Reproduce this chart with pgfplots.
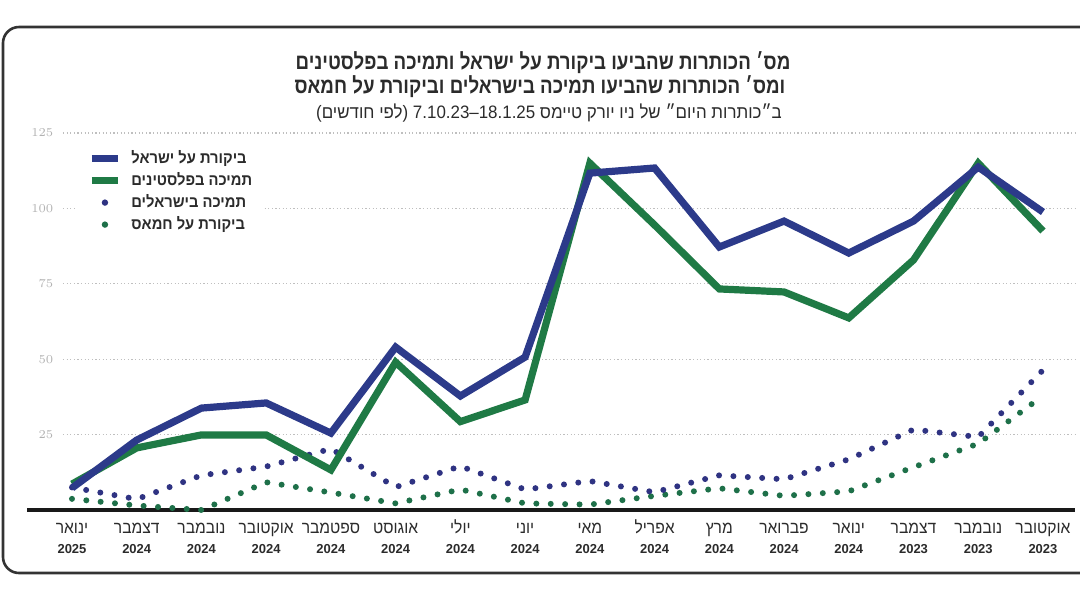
\documentclass[border=0pt]{standalone}
\usepackage{fontspec}
\setmainfont{Liberation Sans}
\newfontfamily\heb[Script=Hebrew]{Liberation Sans}
\newfontfamily\hebt[Script=Hebrew, FakeStretch=0.85]{Liberation Sans}
\newfontfamily\hebs[Script=Hebrew, FakeStretch=0.94]{Liberation Sans}
\newfontfamily\hebm[Script=Hebrew, FakeStretch=0.92]{Liberation Sans}
\usepackage{pgfplots}
\usepackage{pgfplotstable}
\pgfplotsset{compat=1.18}
\TeXXeTstate=1
\definecolor{cblue}{HTML}{2C3A8A}
\definecolor{cgreen}{HTML}{1F7A45}
\definecolor{dblue}{HTML}{2F3382}
\definecolor{dgreen}{HTML}{1E7049}
\definecolor{tgray}{HTML}{2B2B2B}
\newcommand{\xl}[2]{\beginR #1\endR\\{\heb\bfseries\fontsize{6.5}{10}\selectfont #2}}
\pgfplotstableread{
x blue green bdot gdot
0 7.3 8.6 7.5 3.7
1 23.2 20.6 3.6 1.5
2 33.8 24.9 11.5 0
3 35.5 24.9 14.4 9.2
4 25.5 13.3 20.3 5.8
5 54 49 7.6 2.2
6 37.8 29.3 14.5 6.8
7 50.7 36.5 6.8 2.2
8 111.7 115 9.6 1.8
9 113.4 94.5 5.9 4.7
10 87.2 73.3 11.5 7.2
11 95.8 72.3 10.2 4.7
12 85.2 63.7 16.8 6.2
13 95.8 82.9 26.7 14.2
14 113.7 115 24.2 22
15 98.8 92.5 46.4 37.9
}\data
\begin{document}
\begin{tikzpicture}
\draw[line width=1.3pt, black!80, rounded corners=8pt] (560pt,-13.5pt) -- (1.5pt,-13.5pt) -- (1.5pt,-286.5pt) -- (560pt,-286.5pt);
\node[font=\hebt\bfseries\fontsize{11}{13}\selectfont, text=tgray] at (271.5pt,-31.5pt) {\beginR מס׳ הכותרות שהביעו ביקורת על ישראל ותמיכה בפלסטינים\endR};
\node[font=\hebt\bfseries\fontsize{11}{13}\selectfont, text=tgray] at (270pt,-43.5pt) {\beginR ומס׳ הכותרות שהביעו תמיכה בישראלים וביקורת על חמאס\endR};
\node[font=\hebs\fontsize{9}{11}\selectfont, text=tgray] at (274.5pt,-56.5pt) {\beginR ב״כותרות היום״ של ניו יורק טיימס 18.1.25–7.10.23 (לפי חודשים)\endR};
\begin{axis}[
  at={(13.5pt,-255pt)}, anchor=south west,
  width=524pt, height=188.5pt, scale only axis,
  xmin=-0.695, xmax=15.495, ymin=0, ymax=125,
  axis x line=bottom, axis y line=left,
  x axis line style={-, line width=2pt, black!90},
  y axis line style={draw=none},
  xtick={0,...,15}, xtick style={draw=none},
  ytick={25,50,75,100,125}, ytick style={draw=none},
  yticklabel style={anchor=east, inner sep=0pt, xshift=15.5pt, font=\fontsize{6}{7}\selectfont, text=black!30},
  xticklabels={{\xl{ינואר}{2025}},{\xl{דצמבר}{2024}},{\xl{נובמבר}{2024}},{\xl{אוקטובר}{2024}},{\xl{ספטמבר}{2024}},{\xl{אוגוסט}{2024}},{\xl{יולי}{2024}},{\xl{יוני}{2024}},{\xl{מאי}{2024}},{\xl{אפריל}{2024}},{\xl{מרץ}{2024}},{\xl{פברואר}{2024}},{\xl{ינואר}{2024}},{\xl{דצמבר}{2023}},{\xl{נובמבר}{2023}},{\xl{אוקטובר}{2023}}},
  xticklabel style={align=center, anchor=north, inner sep=0pt, text height=6pt, yshift=-13.6pt, font=\hebm\fontsize{8.5}{10}\selectfont, text=tgray},
  clip=false,
  reverse legend,
  legend style={at={(0.0468,0.9942)}, anchor=north west, draw=none, fill=white, inner sep=6pt,
    font=\hebm\bfseries\fontsize{8}{9}\selectfont, text=tgray, column sep=5pt, row sep=0pt,
    nodes={inner sep=0pt, text height=8pt, text depth=3pt}},
  legend cell align=left,
]
\pgfplotsinvokeforeach{25,50,75,100,125}{\draw[black!25, line width=0.6pt, dash pattern=on 0.6pt off 1.2pt] (axis cs:-0.139,#1) -- (axis cs:15.495,#1);}
\addplot[dgreen, line width=3pt, line cap=round, dash pattern=on 0pt off 7.2pt,
  legend image code/.code={\path[fill=dgreen, draw=none, solid] (6.5pt,0pt) circle (1.6pt);}] table[x=x, y=gdot] {\data};
\addlegendentry{\beginR ביקורת על חמאס\endR}
\addplot[dblue, line width=3pt, line cap=round, dash pattern=on 0pt off 7.2pt,
  legend image code/.code={\path[fill=dblue, draw=none, solid] (6.5pt,0pt) circle (1.6pt);}] table[x=x, y=bdot] {\data};
\addlegendentry{\beginR תמיכה בישראלים\endR}
\addplot[cgreen, line width=3.6pt,
  legend image code/.code={\draw[cgreen, line width=3.5pt, solid] (0pt,0pt) -- (13pt,0pt);}] table[x=x, y=green] {\data};
\addlegendentry{\beginR תמיכה בפלסטינים\endR}
\addplot[cblue, line width=3.6pt,
  legend image code/.code={\draw[cblue, line width=3.5pt, solid] (0pt,0pt) -- (13pt,0pt);}] table[x=x, y=blue] {\data};
\addlegendentry{\beginR ביקורת על ישראל\endR}
\end{axis}
\pgfresetboundingbox
\useasboundingbox (0,0) rectangle (540pt,-303.5pt);
\end{tikzpicture}
\end{document}
